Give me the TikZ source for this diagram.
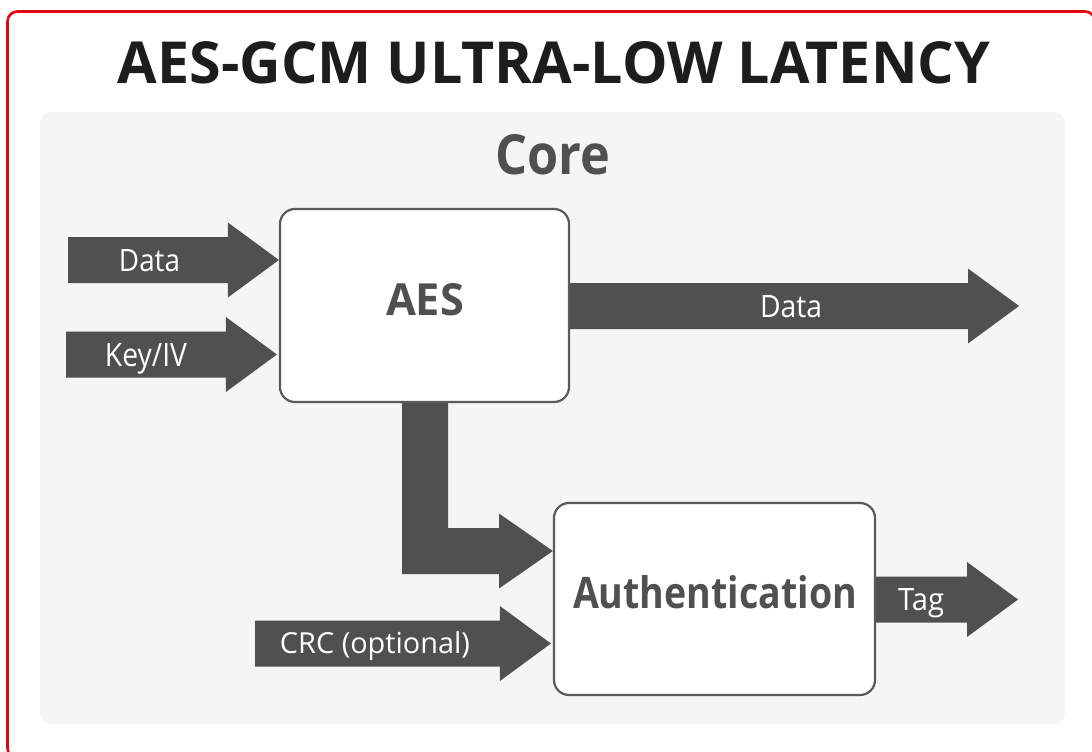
\documentclass[tikz,border=0pt]{standalone}
\usepackage{fontspec}
\setmainfont{Open Sans}
\usetikzlibrary{calc}
\definecolor{redframe}{HTML}{E30613}
\definecolor{panelbg}{HTML}{F5F5F5}
\definecolor{arrowgray}{HTML}{50504E}
\definecolor{boxline}{HTML}{5A5A5A}
\definecolor{boxtext}{HTML}{505050}
\definecolor{titlec}{HTML}{1D1D1B}
\tikzset{
  blockbox/.style={draw=boxline, line width=2.2pt, fill=white, rounded corners=15pt, inner sep=0pt},
  blockarrow/.style={to path={
    let \p1=(\tikztostart), \p2=(\tikztotarget) in
    (\x1,\y1+23pt) -- (\x2-51pt,\y1+23pt) -- (\x2-51pt,\y1+37.5pt) -- (\x2,\y1)
    -- (\x2-51pt,\y1-37.5pt) -- (\x2-51pt,\y1-23pt) -- (\x1,\y1-23pt) -- cycle}},
  arrowfill/.style={fill=arrowgray, draw=none},
  whitelabel/.style={text=white, inner sep=0pt, anchor=base},
  boxlabel/.style={text=boxtext, inner sep=0pt, anchor=base, font=\bfseries},
}
\begin{document}
\begin{tikzpicture}[x=1pt,y=-1pt]
\useasboundingbox (0,0) rectangle (1092,752);
\clip (0,0) rectangle (1092,752);
% outer red frame
\draw[redframe, line width=2.6pt, rounded corners=10pt] (7.5,11.5) rectangle (1095,758);
% title
\node[inner sep=0pt, anchor=base, text=titlec] (title) at (554,83)
  {\resizebox{872pt}{42pt}{\bfseries AES-GCM ULTRA-LOW LATENCY}};
% panel
\fill[panelbg, rounded corners=11pt] (40,112) rectangle (1065,724);
\node[boxlabel] (core) at (552.5,174.5) {\resizebox{115pt}{40pt}{\bfseries Core}};
% boxes
\node[blockbox, minimum width=289pt, minimum height=193pt] (aes) at (424.5,305.5) {};
\node[blockbox, minimum width=321pt, minimum height=192pt] (auth) at (714.5,599) {};
\node[boxlabel] (aeslabel) at (425,315) {\resizebox{78pt}{32pt}{\bfseries AES}};
\node[boxlabel] (authlabel) at (715,608) {\resizebox{284pt}{33pt}{\bfseries Authentication}};
% arrow end points
\coordinate (dataIn) at (68,260);
\coordinate (keyIn) at (66,354.5);
\coordinate (dataOut) at (1019,306);
\coordinate (crcIn) at (255,643.5);
\coordinate (tagOut) at (1018,599.5);
% arrows
\fill[arrowfill] (dataIn) to[blockarrow] (aes.west |- dataIn);
\fill[arrowfill] (keyIn) to[blockarrow] ($(aes.west |- keyIn)+(-2,0)$);
\fill[arrowfill] (aes.east |- dataOut) to[blockarrow] (dataOut);
\fill[arrowfill] (crcIn) to[blockarrow] ($(auth.west |- crcIn)+(-2,0)$);
\fill[arrowfill] (auth.east |- tagOut) to[blockarrow] (tagOut);
% L-shaped arrow from AES to Authentication
\fill[arrowfill] (aes.south -| 402,0) -- (aes.south -| 448,0) -- (448,528) -- (499,528)
  -- (499,513.5) -- (auth.west |- 0,551) -- (499,588.5) -- (499,574) -- (402,574) -- cycle;
% arrow labels
\node[whitelabel] (lData) at (149.5,271) {\resizebox{61pt}{22pt}{Data}};
\node[whitelabel] (lKey) at (146,366) {\resizebox{82pt}{23pt}{Key/IV}};
\node[whitelabel] (lDataOut) at (791,317) {\resizebox{62pt}{22pt}{Data}};
\node[whitelabel] (lCrc) at (375,653) {\resizebox{190pt}{22pt}{CRC (optional)}};
\node[whitelabel] (lTag) at (921,610) {\resizebox{46pt}{22pt}{Tag}};
\end{tikzpicture}
\end{document}
